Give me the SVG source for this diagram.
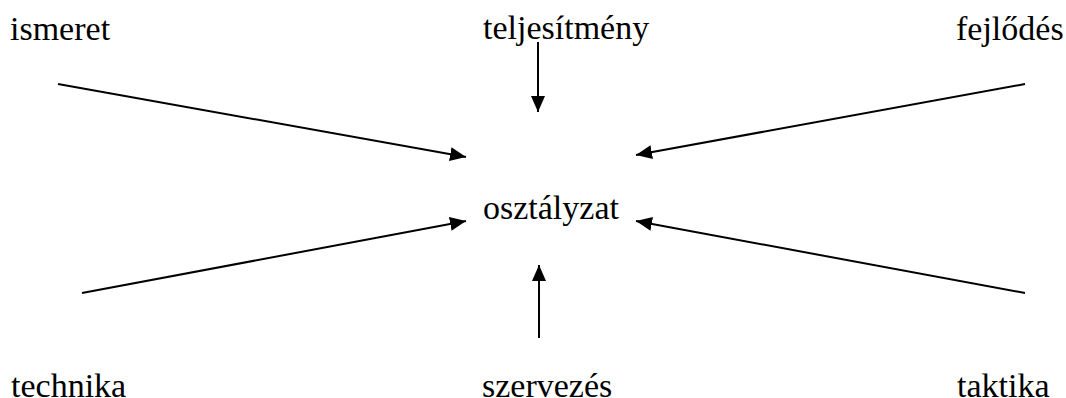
<svg xmlns="http://www.w3.org/2000/svg" width="1066" height="398" viewBox="0 0 1066 398">
<style>
.t{font-family:'Liberation Serif','Tinos','Times New Roman','Times','Nimbus Roman','Noto Serif','DejaVu Serif',serif;font-size:34px;fill:#000}
.c line{stroke:#000;stroke-width:2;fill:none}
</style>
<defs>
<marker id="ah" viewBox="0 0 16 14" refX="16" refY="7" markerWidth="16" markerHeight="14" markerUnits="userSpaceOnUse" orient="auto">
<path d="M0,0 L16,7 L0,14 Z" fill="#000"/>
</marker>
</defs>
<rect width="1066" height="398" fill="#fff"/>
<g id="ismeret"><text class="t" x="10" y="40">ismeret</text></g>
<g id="teljesitmeny"><text class="t" x="483" y="39">teljesítmény</text></g>
<g id="fejlodes"><text class="t" x="956" y="40">fejlődés</text></g>
<g id="osztalyzat"><text class="t" x="483" y="219">osztályzat</text></g>
<g id="technika"><text class="t" x="11" y="397">technika</text></g>
<g id="szervezes"><text class="t" x="482" y="397">szervezés</text></g>
<g id="taktika"><text class="t" x="957" y="397">taktika</text></g>
<g class="c" id="connectors">
<line x1="58" y1="84" x2="466" y2="157" marker-end="url(#ah)"/>
<line x1="538" y1="42" x2="538" y2="112" marker-end="url(#ah)"/>
<line x1="1025" y1="84" x2="636" y2="155" marker-end="url(#ah)"/>
<line x1="82" y1="293" x2="466" y2="221" marker-end="url(#ah)"/>
<line x1="539" y1="338" x2="539" y2="265" marker-end="url(#ah)"/>
<line x1="1025" y1="293" x2="636" y2="221" marker-end="url(#ah)"/>
</g>
</svg>
